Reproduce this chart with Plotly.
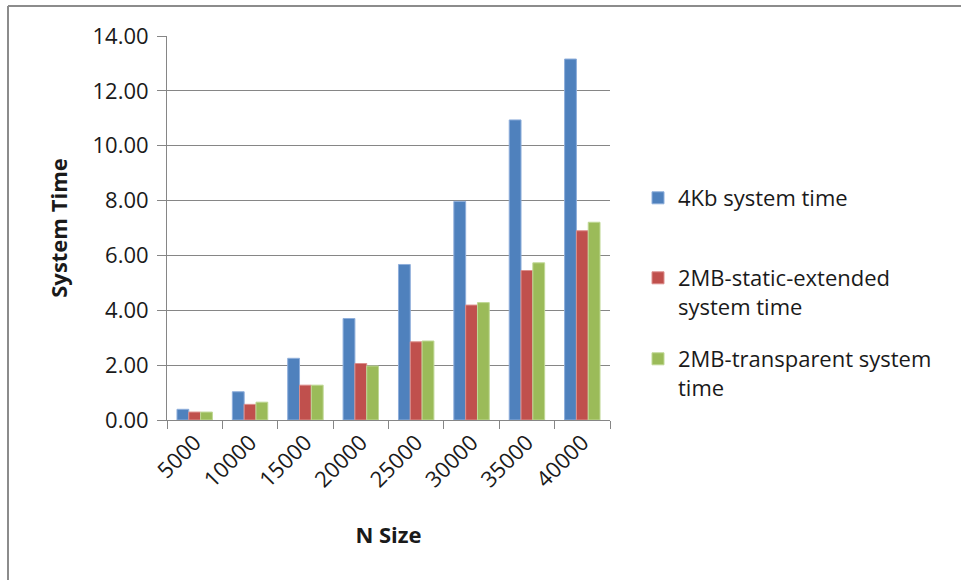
import plotly.graph_objects as go

# N sizes and measured system time per page-size configuration
n_sizes = ["5000", "10000", "15000", "20000", "25000", "30000", "35000", "40000"]
time_4kb = [0.39, 1.03, 2.25, 3.70, 5.67, 7.97, 10.94, 13.16]
time_2mb_static = [0.29, 0.57, 1.27, 2.06, 2.85, 4.19, 5.45, 6.90]
time_2mb_transparent = [0.29, 0.65, 1.27, 1.97, 2.88, 4.28, 5.73, 7.21]

series_names = [
    "4Kb system time",
    "2MB-static-extended<br>system time",
    "2MB-transparent system<br>time",
]
series_values = [time_4kb, time_2mb_static, time_2mb_transparent]
series_colors = ["#4F81BD", "#C0504D", "#9BBB59"]
series_edges = ["#8EAEDB", "#DC8E8C", "#BFD895"]
legend_ids = ["legend", "legend2", "legend3"]

FONT = "Open Sans, Liberation Sans, Arial, sans-serif"
W, H = 961, 580
ML, MR, MT, MB = 167, 351, 36, 160
PW, PH = W - ML - MR, H - MT - MB


def px_x(x):
    return (x - ML) / PW


def px_y(y):
    return 1 - (y - MT) / PH


fig = go.Figure()
for name, vals, col, edge, lg in zip(series_names, series_values, series_colors, series_edges, legend_ids):
    fig.add_trace(go.Bar(
        x=n_sizes, y=vals, name=name,
        marker=dict(color=col, line=dict(color=edge, width=1)),
        legend=lg,
    ))

legend_style = dict(
    xanchor="left", yanchor="top",
    valign="top",
    bgcolor="rgba(0,0,0,0)",
    font=dict(family=FONT, size=22, color="#1a1a1a"),
    itemwidth=30,
    tracegroupgap=0,
)

fig.update_layout(
    width=W, height=H,
    margin=dict(l=ML, r=MR, t=MT, b=MB),
    paper_bgcolor="white",
    plot_bgcolor="white",
    barmode="group",
    bargap=0.36,
    bargroupgap=0,
    showlegend=True,
    legend=dict(x=px_x(638), y=px_y(177), **legend_style),
    legend2=dict(x=px_x(638), y=px_y(257), **legend_style),
    legend3=dict(x=px_x(638), y=px_y(338), **legend_style),
    font=dict(family=FONT, color="#1a1a1a"),
    xaxis=dict(
        type="category",
        tickson="boundaries",
        ticks="outside", ticklen=8, tickcolor="#868686",
        showline=True, linecolor="#868686", linewidth=1,
        showgrid=False,
        tickangle=-45,
        tickfont=dict(family=FONT, size=22, color="#1a1a1a"),
        title=dict(text="<b>N Size</b>", font=dict(family=FONT, size=22, color="#1a1a1a"), standoff=35),
    ),
    yaxis=dict(
        range=[0, 14],
        tickvals=[0, 2, 4, 6, 8, 10, 12, 14],
        tickformat=".2f",
        ticks="outside", ticklen=9, tickcolor="#868686",
        showline=True, linecolor="#868686", linewidth=1,
        showgrid=True, gridcolor="#868686", gridwidth=1,
        zeroline=False,
        tickfont=dict(family=FONT, size=22, color="#1a1a1a"),
        ticklabelstandoff=4,
        title=dict(text="<b>System Time</b>", font=dict(family=FONT, size=22, color="#1a1a1a"), standoff=18),
    ),
    shapes=[
        # chart-area frame (top and left edges)
        dict(type="line", xref="paper", yref="paper",
             x0=px_x(8), x1=px_x(961), y0=px_y(6), y1=px_y(6),
             line=dict(color="#8C8C8C", width=2)),
        dict(type="line", xref="paper", yref="paper",
             x0=px_x(8), x1=px_x(8), y0=px_y(6), y1=px_y(580),
             line=dict(color="#8C8C8C", width=2)),
    ],
)

fig.write_html("out.html")
